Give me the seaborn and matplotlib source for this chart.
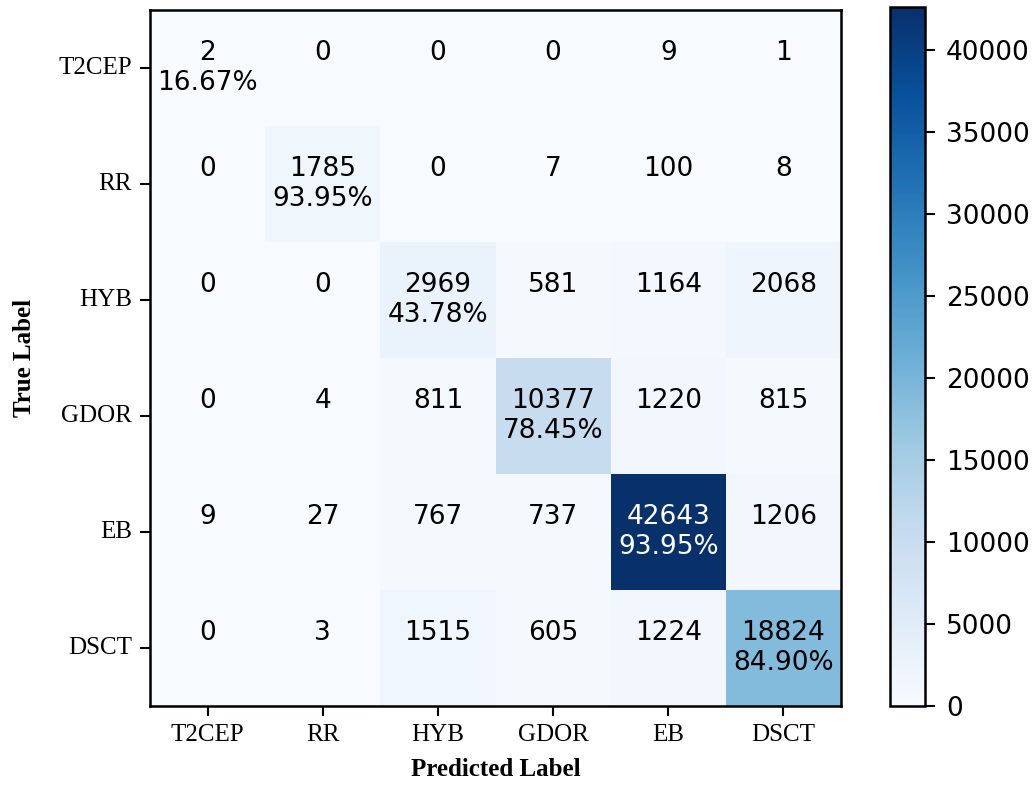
import numpy as np
import matplotlib
matplotlib.use("Agg")
import matplotlib.pyplot as plt
import seaborn as sns

classes = ["T2CEP", "RR", "HYB", "GDOR", "EB", "DSCT"]

# confusion matrix rows: true label, columns: predicted label
row_t2cep = [2, 0, 0, 0, 9, 1]
row_rr = [0, 1785, 0, 7, 100, 8]
row_hyb = [0, 0, 2969, 581, 1164, 2068]
row_gdor = [0, 4, 811, 10377, 1220, 815]
row_eb = [9, 27, 767, 737, 42643, 1206]
row_dsct = [0, 3, 1515, 605, 1224, 18824]

cm = np.array([row_t2cep, row_rr, row_hyb, row_gdor, row_eb, row_dsct])
recall = cm.diagonal() / cm.sum(axis=1)

labels = np.empty(cm.shape, dtype=object)
for i in range(cm.shape[0]):
    for j in range(cm.shape[1]):
        if i == j:
            labels[i, j] = f"{cm[i, j]}\n{recall[i] * 100:.2f}%"
        else:
            labels[i, j] = f"{cm[i, j]}\n"

sns.set_style("ticks")
plt.rcParams.update({"text.color": "black", "axes.labelcolor": "black",
                     "xtick.color": "black", "ytick.color": "black"})
serif = ["Liberation Serif", "DejaVu Serif"]

fig = plt.figure(figsize=(10.32, 7.86), dpi=100)
ax = fig.add_axes([0.1453, 0.102, 0.6697, 0.885])
cax = fig.add_axes([0.8625, 0.102, 0.034, 0.889])

vmax = cm.max()
sns.heatmap(cm, ax=ax, cbar_ax=cax, cmap="Blues", vmin=0, vmax=vmax,
            annot=labels, fmt="", annot_kws={"fontsize": 19, "family": "DejaVu Sans"},
            xticklabels=classes, yticklabels=classes, square=False)

# white text on dark cells, black elsewhere
for t, val in zip(ax.texts, cm.flatten()):
    t.set_color("white" if val > vmax / 2 else "black")

for side in ["left", "right", "top", "bottom"]:
    ax.spines[side].set_visible(True)
    ax.spines[side].set_color("black")
    ax.spines[side].set_linewidth(1.8)

ax.tick_params(axis="both", direction="out", length=7, width=1.5, color="black",
               labelcolor="black", pad=6)
for lab in ax.get_xticklabels():
    lab.set_fontfamily(serif)
    lab.set_fontsize(18)
    lab.set_rotation(0)
for lab in ax.get_yticklabels():
    lab.set_fontfamily(serif)
    lab.set_fontsize(18)
    lab.set_rotation(0)

ax.set_xlabel("Predicted Label", fontsize=18, fontweight="bold", family=serif,
              labelpad=9, color="black")
ax.set_ylabel("True Label", fontsize=18, fontweight="bold", family=serif,
              labelpad=16, color="black")

cbar = ax.collections[0].colorbar
cbar.set_ticks(np.arange(0, 40001, 5000))
cbar.outline.set_visible(True)
cbar.outline.set_linewidth(1.8)
cbar.outline.set_edgecolor("black")
cax.tick_params(direction="out", length=7, width=1.5, color="black",
                labelcolor="black", labelsize=19, pad=8)
for lab in cax.get_yticklabels():
    lab.set_fontfamily("DejaVu Sans")

fig.savefig("out.png", dpi=100, facecolor="white")
